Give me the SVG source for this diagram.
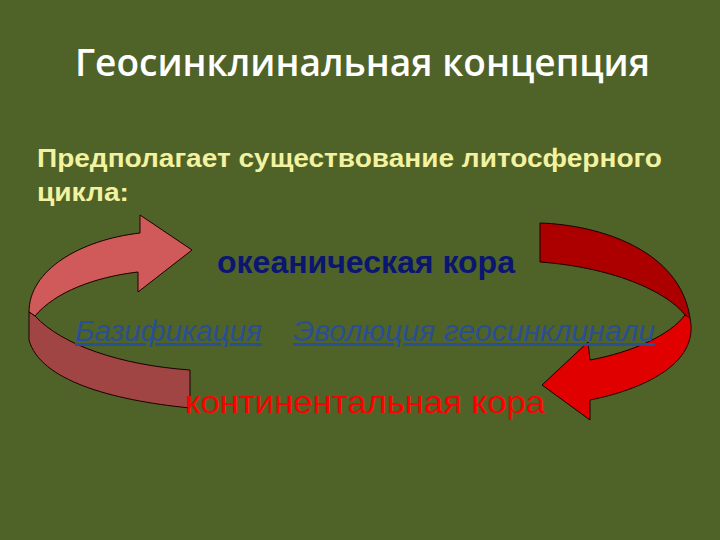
<svg xmlns="http://www.w3.org/2000/svg" width="720" height="540" viewBox="0 0 720 540">
<style>
.sans{font-family:"Liberation Sans",Arial,sans-serif}
.lnk{font-style:italic;text-decoration:underline;fill:#2a4f92;font-size:29px}
.rib{stroke:#1a0000;stroke-width:1}
</style>
<rect width="720" height="540" fill="#4f6228"/>
<text x="75" y="76" textLength="575" lengthAdjust="spacingAndGlyphs" fill="#ffffff" font-family="'Open Sans','Noto Sans',sans-serif" font-weight="600" font-size="38">Геосинклинальная концепция</text>
<g id="intro" class="sans" fill="#f2f2a0" font-weight="bold" font-size="25">
<text x="37" y="167" textLength="625" lengthAdjust="spacingAndGlyphs">Предполагает существование литосферного</text>
<text x="37" y="201" textLength="92" lengthAdjust="spacingAndGlyphs">цикла:</text>
</g>
<g id="connectors">
<g id="left-arrow">
<path class="rib" fill="#d05a5a" d="M140,215 L192,250 L138,292 L138,272 C95,277 55,292 35,316 L29,312 C29,270 80,240 140,233 Z"/>
<path class="rib" fill="#a04444" d="M35,316 C62,345 120,365 190,370 L190,408 C110,400 40,380 29,340 L29,312 Z"/>
</g>
<g id="right-arrow">
<path class="rib" fill="#ac0000" d="M540,223 C600,225 680,250 690,318 L685,315 C670,295 620,268 540,262 Z"/>
<path class="rib" fill="#e00000" d="M685,315 C670,335 633,352 590,360 L588,342 L542,385 L590,420 L590,400 C640,390 700,365 690,318 Z"/>
</g>
</g>
<g id="oceanic"><text class="sans" x="217" y="273" textLength="298" lengthAdjust="spacingAndGlyphs" fill="#0a1670" font-weight="bold" font-size="31">океаническая кора</text></g>
<g id="basification"><text class="sans lnk" x="75" y="341" textLength="187" lengthAdjust="spacingAndGlyphs">Базификация</text></g>
<g id="evolution"><text class="sans lnk" x="293" y="341" textLength="362" lengthAdjust="spacingAndGlyphs">Эволюция геосинклинали</text></g>
<g id="continental"><text class="sans" x="185" y="413" textLength="360" lengthAdjust="spacingAndGlyphs" fill="#ff0000" font-size="32">континентальная кора</text></g>
</svg>
